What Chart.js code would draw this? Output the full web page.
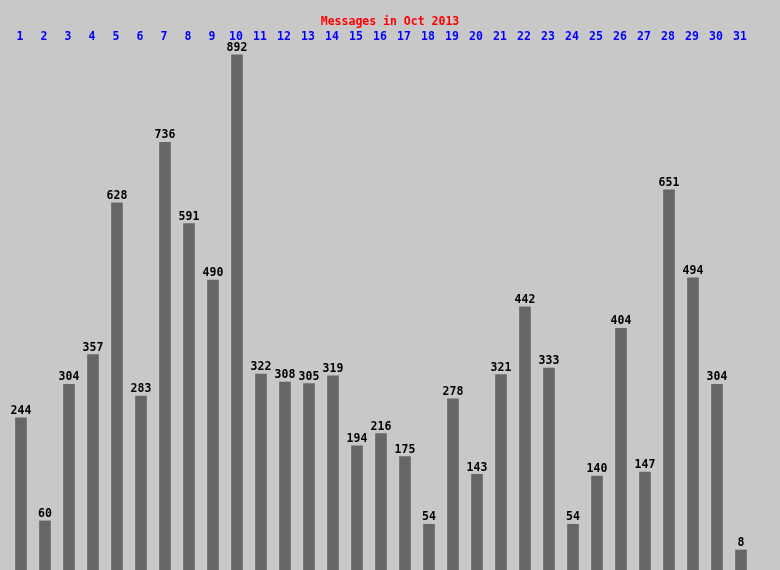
<!DOCTYPE html>
<html>
<head>
<meta charset="utf-8">
<script src="https://cdn.jsdelivr.net/npm/chart.js@4/dist/chart.umd.min.js"></script>
<style>
  html, body { margin: 0; padding: 0; background: #c8c8c8; overflow: hidden; }
  #wrap { width: 780px; height: 570px; }
  canvas { display: block; }
</style>
</head>
<body>
<div id="wrap"><canvas id="msgChart" width="780" height="570"></canvas></div>
<script>
const chartTitle = "Messages in Oct 2013";
const days = ["1","2","3","4","5","6","7","8","9","10","11","12","13","14","15","16","17","18","19","20","21","22","23","24","25","26","27","28","29","30","31"];
const messages = [244, 60, 304, 357, 628, 283, 736, 591, 490, 892, 322, 308, 305, 319, 194, 216, 175, 54, 278, 143, 321, 442, 333, 54, 140, 404, 147, 651, 494, 304, 8];

// bars in the original start a little below zero
const yMin = -27.7;
const yMax = 990;

const FONT = "bold 11.5px 'DejaVu Sans Mono', 'Liberation Mono', monospace";

// draws title, day numbers on top and the value over each bar
const labelsPlugin = {
  id: "labels",
  beforeDraw(chart) {
    const ctx = chart.ctx;
    ctx.save();
    ctx.fillStyle = "#c8c8c8";
    ctx.fillRect(0, 0, chart.width, chart.height);
    ctx.restore();
  },
  afterDatasetsDraw(chart) {
    const ctx = chart.ctx;
    const meta = chart.getDatasetMeta(0);
    ctx.save();
    ctx.font = FONT;
    ctx.textAlign = "center";

    ctx.fillStyle = "#ff0000";
    ctx.textBaseline = "middle";
    ctx.fillText(chartTitle, chart.width / 2, 22);

    ctx.fillStyle = "#0000ff";
    meta.data.forEach((bar, i) => {
      ctx.fillText(days[i], bar.x - 1, 37);
    });

    ctx.fillStyle = "#000000";
    ctx.textBaseline = "bottom";
    meta.data.forEach((bar, i) => {
      ctx.fillText(String(messages[i]), bar.x, bar.y - 1);
    });
    ctx.restore();
  }
};

new Chart(document.getElementById("msgChart"), {
  type: "bar",
  data: {
    labels: days,
    datasets: [
      {
        label: "Messages",
        data: messages,
        base: yMin,
        backgroundColor: "#666666",
        borderWidth: 0,
        barThickness: 11,
      },
    ],
  },
  options: {
    responsive: false,
    animation: false,
    layout: { padding: { left: 9, right: 27, top: 0, bottom: 0 } },
    plugins: {
      legend: { display: false },
      tooltip: { enabled: false },
      title: { display: false },
    },
    scales: {
      x: { display: false },
      y: { display: false, min: yMin, max: yMax },
    },
  },
  plugins: [labelsPlugin],
});
</script>
</body>
</html>
